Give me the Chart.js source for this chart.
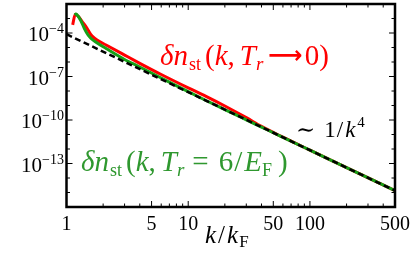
<!DOCTYPE html>
<html>
<head>
<meta charset="utf-8">
<script src="https://cdn.jsdelivr.net/npm/chart.js@4.4.0/dist/chart.umd.min.js"></script>
<style>
  html, body { margin: 0; padding: 0; background: #fff; }
  #wrap { width: 415px; height: 254px; }
</style>
</head>
<body>
<div id="wrap"><canvas id="chart" width="415" height="254"></canvas></div>
<script>
// k/kF values and densities
const kRed = [1.124, 1.181, 1.255, 1.354, 1.466, 1.576, 1.643, 1.782, 2.114, 3, 4, 6, 10, 14, 20, 30, 40, 60, 100, 200, 500]
const nRed = [3.6e-4, 1.95e-3, 1.37e-3, 5.7e-4, 2.3e-4, 8.5e-5, 5.6e-5, 3.3e-5, 1.49e-5, 3.0e-6, 8.1e-7, 1.37e-7, 1.64e-8, 4.3e-9, 9.3e-10, 1.45e-10, 3.6e-11, 6.5e-12, 8.3e-13, 5.2e-14, 1.33e-15]

const kGreen = [1.168, 1.197, 1.243, 1.316, 1.40, 1.503, 1.591, 1.749, 2.114, 3, 4, 6, 10, 14, 20, 30, 40, 60, 100, 200, 500]
const nGreen = [1.74e-3, 2.04e-3, 1.49e-3, 6.7e-4, 2.1e-4, 7.3e-5, 4.2e-5, 2.29e-5, 8.5e-6, 1.49e-6, 4.5e-7, 7.9e-8, 9.0e-9, 2.22e-9, 5.25e-10, 1.03e-10, 3.25e-11, 6.4e-12, 8.3e-13, 5.2e-14, 1.33e-15]

// ~ 1/k^4 reference line (end points)
const kTail = [1, 500]
const nTail = [8.3e-5, 1.33e-15]

const xTickLabels = [1, 5, 10, 50, 100, 500]
const yTickExponents = [-4, -7, -10, -13]

const xMin = 1, xMax = 500
const yMin = 1e-16, yMax = 1e-2

const RED = '#ff0000'
const GREEN = '#16a016'
const GREEN_TEXT = '#2f982f'
const SERIF = '"Liberation Serif", "DejaVu Serif", serif'

const toPoints = (xs, ys) => xs.map((x, i) => ({x: x, y: ys[i]}))

// minor tick positions (every 1..9 x decade)
const xMinor = []
for (let d = 1; d <= 100; d *= 10) {
  for (let m = 1; m <= 9; m++) {
    const v = m * d
    if (v >= xMin && v <= xMax) xMinor.push(v)
  }
}
const yMinor = []
for (let e = -16; e <= -2; e++) yMinor.push(Math.pow(10, e))

// draw a row of text pieces: [text, font, dy, gapBefore]
function drawRich(ctx, x, y, parts, color) {
  ctx.save()
  ctx.fillStyle = color
  ctx.textBaseline = 'alphabetic'
  ctx.textAlign = 'left'
  let cx = x
  parts.forEach(p => {
    ctx.font = p[1]
    cx += p[3] || 0
    ctx.fillText(p[0], cx, y + (p[2] || 0))
    cx += ctx.measureText(p[0]).width
  })
  ctx.restore()
}

const decor = {
  id: 'decor',
  afterDraw(chart) {
    const ctx = chart.ctx
    const a = chart.chartArea
    const xs = chart.scales.x, ys = chart.scales.y

    ctx.save()
    ctx.strokeStyle = '#000'
    ctx.lineWidth = 1
    // ticks, pointing inward
    xMinor.forEach(v => {
      const px = xs.getPixelForValue(v)
      const len = xTickLabels.includes(v) ? 6 : 3.5
      ctx.beginPath()
      ctx.moveTo(px, a.bottom)
      ctx.lineTo(px, a.bottom - len)
      ctx.moveTo(px, a.top)
      ctx.lineTo(px, a.top + len)
      ctx.stroke()
    })
    yMinor.forEach(v => {
      const py = ys.getPixelForValue(v)
      const e = Math.round(Math.log10(v))
      const len = yTickExponents.includes(e) ? 6 : 3.5
      ctx.beginPath()
      ctx.moveTo(a.left, py)
      ctx.lineTo(a.left + len, py)
      ctx.moveTo(a.right, py)
      ctx.lineTo(a.right - len, py)
      ctx.stroke()
    })
    // frame
    ctx.lineWidth = 2.5
    ctx.strokeRect(a.left, a.top, a.right - a.left, a.bottom - a.top)
    ctx.restore()

    // x tick labels
    ctx.save()
    ctx.fillStyle = '#000'
    ctx.font = '20px ' + SERIF
    ctx.textAlign = 'center'
    ctx.textBaseline = 'alphabetic'
    xTickLabels.forEach(v => {
      ctx.fillText(String(v), xs.getPixelForValue(v), a.bottom + 23)
    })
    ctx.restore()

    // y tick labels 10^e
    ctx.save()
    ctx.fillStyle = '#000'
    ctx.textBaseline = 'alphabetic'
    yTickExponents.forEach(e => {
      const py = ys.getPixelForValue(Math.pow(10, e))
      const sup = '\u2212' + Math.abs(e)
      ctx.font = '14px ' + SERIF
      const wSup = ctx.measureText(sup).width
      ctx.font = '21px ' + SERIF
      const wBase = ctx.measureText('10').width
      const right = a.left - 2.5
      ctx.fillText('10', right - wSup - wBase, py + 8)
      ctx.font = '14px ' + SERIF
      ctx.fillText(sup, right - wSup, py)
    })
    ctx.restore()

    const it = (s) => 'italic ' + s + 'px ' + SERIF
    const rm = (s) => s + 'px ' + SERIF

    // red label
    drawRich(ctx, 160, 65, [
      ['\u03b4n', it(29)], ['st', rm(18), 5, 1], ['(', rm(29), 0, 4], ['k', it(29)], [',', rm(29)],
      ['T', it(29), 0, 5], ['r', it(19), 5, 0], ['\u27f6', 'bold 24px "DejaVu Sans"', -2, 5],
      ['0', rm(29), 0, 2], [')', rm(29)]
    ], RED)

    // green label
    drawRich(ctx, 81, 171, [
      ['\u03b4n', it(29)], ['st', rm(18), 5, 1], ['(', rm(29), 0, 4], ['k', it(29)], [',', rm(29)],
      ['T', it(29), 0, 5], ['r', it(19), 5, 0], ['=', rm(29), 0, 8], ['6', rm(29), 0, 10],
      ['/', rm(29), 0, 1], ['E', it(29), 0, 2], ['F', rm(18), 5], [')', rm(29), 0, 6]
    ], GREEN_TEXT)

    // ~ 1/k^4
    drawRich(ctx, 296, 137, [
      ['\u223c', rm(23)], ['1', rm(23), 0, 9], ['/', rm(23), 0, 1], ['k', it(23), 0, 2],
      ['4', rm(15), -10, 2]
    ], '#000')

    // axis title k/kF
    drawRich(ctx, 205, 243, [
      ['k', it(25)], ['/', rm(25), 0, 2], ['k', it(25), 0, 2], ['F', rm(17), 4, 1]
    ], '#000')
  }
}

new Chart(document.getElementById('chart'), {
  type: 'line',
  data: {
    datasets: [
      {
        label: '~1/k^4',
        data: toPoints(kTail, nTail),
        borderColor: '#000',
        borderWidth: 2.5,
        borderDash: [6, 3.5],
        pointRadius: 0,
        fill: false
      },
      {
        label: 'Tr = 6/EF',
        data: toPoints(kGreen, nGreen),
        borderColor: GREEN,
        borderWidth: 3,
        pointRadius: 0,
        cubicInterpolationMode: 'monotone',
        fill: false
      },
      {
        label: 'Tr -> 0',
        data: toPoints(kRed, nRed),
        borderColor: RED,
        borderWidth: 3,
        pointRadius: 0,
        cubicInterpolationMode: 'monotone',
        fill: false
      }
    ]
  },
  options: {
    responsive: false,
    animation: false,
    events: [],
    layout: { padding: { left: 0, top: 4, right: 20, bottom: 0 } },
    plugins: { legend: { display: false }, tooltip: { enabled: false } },
    scales: {
      x: {
        type: 'logarithmic',
        min: xMin,
        max: xMax,
        grid: { display: false },
        border: { display: false },
        ticks: { display: false },
        afterFit: (s) => { s.height = 47 }
      },
      y: {
        type: 'logarithmic',
        min: yMin,
        max: yMax,
        grid: { display: false },
        border: { display: false },
        ticks: { display: false },
        afterFit: (s) => { s.width = 66.5 }
      }
    }
  },
  plugins: [decor]
})
</script>
</body>
</html>
